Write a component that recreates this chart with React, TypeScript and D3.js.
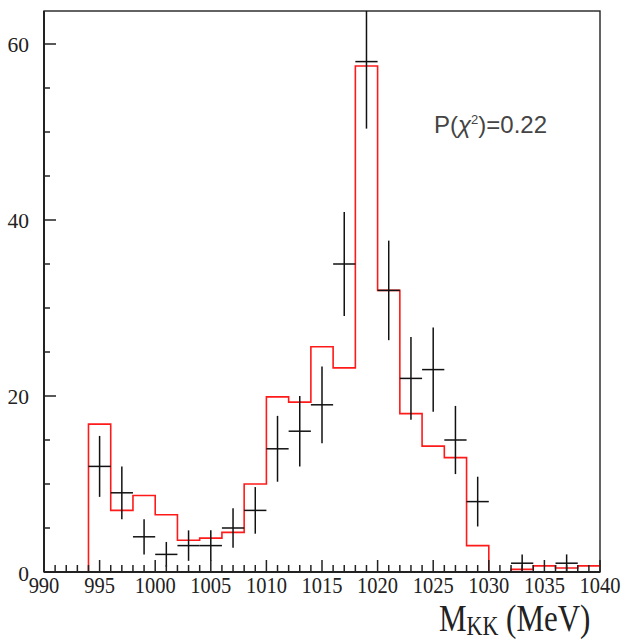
import React, { useEffect, useRef } from "react";
import * as d3 from "d3";

// bin edges: 2 MeV bins from 994 to 1040
const binLow = [994, 996, 998, 1000, 1002, 1004, 1006, 1008, 1010, 1012, 1014, 1016,
  1018, 1020, 1022, 1024, 1026, 1028, 1030, 1032, 1034, 1036, 1038];
// observed counts per bin (error = sqrt(n))
const counts = [12, 9, 4, 2, 3, 3, 5, 7, 14, 16, 19, 35, 58, 32, 22, 23, 15, 8, 0, 1, 0, 1, 0];
// fitted histogram (red)
const fitValues = [16.8, 7.0, 8.7, 6.5, 3.6, 3.85, 4.5, 10.0, 19.9, 19.3, 25.6, 23.2,
  57.5, 32.0, 18.0, 14.3, 13.0, 3.0, 0, 0.3, 0.7, 0.45, 0.7];
const xTickLabels = [990, 995, 1000, 1005, 1010, 1015, 1020, 1025, 1030, 1035, 1040];
const yTickLabels = [0, 20, 40, 60];

const W = 625;
const H = 642;
const BIN = 2;

export default function App() {
  const ref = useRef<SVGSVGElement>(null);

  useEffect(() => {
    const svg = d3.select(ref.current);
    svg.selectAll("*").remove();

    const x = d3.scaleLinear().domain([990, 1040]).range([44, 600]);
    const y = d3.scaleLinear().domain([0, 63.75]).range([572, 11]);

    svg.append("defs").append("clipPath").attr("id", "plotClip")
      .append("rect")
      .attr("x", 44).attr("y", 11).attr("width", 556).attr("height", 561);

    // frame
    svg.append("rect")
      .attr("x", 44).attr("y", 11).attr("width", 556).attr("height", 561)
      .attr("fill", "none").attr("stroke", "#222").attr("stroke-width", 1.4);

    const plot = svg.append("g").attr("clip-path", "url(#plotClip)");

    // red fit histogram
    const pts: [number, number][] = [[binLow[0], 0]];
    binLow.forEach((lo, i) => {
      pts.push([lo, fitValues[i]]);
      pts.push([lo + BIN, fitValues[i]]);
    });
    const line = d3.line<[number, number]>().x((d) => x(d[0])).y((d) => y(d[1]));
    plot.append("path")
      .attr("d", line(pts))
      .attr("fill", "none")
      .attr("stroke", "#ff1a1a")
      .attr("stroke-width", 1.6);

    // data points with errors
    const data = binLow
      .map((lo, i) => ({ c: lo + BIN / 2, n: counts[i] }))
      .filter((d) => d.n > 0);
    const g = plot.append("g").attr("stroke", "#111").attr("stroke-width", 1.5);
    g.selectAll("line.h").data(data).join("line")
      .attr("class", "h")
      .attr("x1", (d) => x(d.c - BIN / 2)).attr("x2", (d) => x(d.c + BIN / 2))
      .attr("y1", (d) => y(d.n)).attr("y2", (d) => y(d.n));
    g.selectAll("line.v").data(data).join("line")
      .attr("class", "v")
      .attr("x1", (d) => x(d.c)).attr("x2", (d) => x(d.c))
      .attr("y1", (d) => y(d.n + Math.sqrt(d.n))).attr("y2", (d) => y(d.n - Math.sqrt(d.n)));

    // x axis
    const xAxis = svg.append("g").attr("stroke", "#222");
    xAxis.append("line").attr("x1", 44).attr("x2", 600).attr("y1", 572).attr("y2", 572)
      .attr("stroke-width", 2);
    const xMinor = d3.range(990, 1041, 1);
    xAxis.selectAll("line.t").data(xMinor).join("line")
      .attr("class", "t")
      .attr("x1", (d) => x(d)).attr("x2", (d) => x(d))
      .attr("y1", 572).attr("y2", (d) => 572 - (d % 5 === 0 ? 12 : 7))
      .attr("stroke-width", 1.5);
    svg.append("g").selectAll("text").data(xTickLabels).join("text")
      .attr("transform", (d) => `translate(${x(d)},593) scale(1,1.15)`)
      .attr("text-anchor", "middle")
      .attr("font-family", "Liberation Serif")
      .attr("font-size", 20.5)
      .attr("fill", "#222")
      .text((d) => d);

    // y axis
    const yAxis = svg.append("g").attr("stroke", "#222");
    yAxis.append("line").attr("x1", 44).attr("x2", 44).attr("y1", 11).attr("y2", 572)
      .attr("stroke-width", 2);
    const yMinor = d3.range(0, 63, 5);
    yAxis.selectAll("line.t").data(yMinor).join("line")
      .attr("class", "t")
      .attr("x1", 44).attr("x2", (d) => 44 + (d % 20 === 0 ? 12 : 6))
      .attr("y1", (d) => y(d)).attr("y2", (d) => y(d))
      .attr("stroke-width", 1.5);
    svg.append("g").selectAll("text").data(yTickLabels).join("text")
      .attr("x", 29)
      .attr("y", (d) => y(d) + 7.5 + (d === 0 ? 1 : 0))
      .attr("text-anchor", "end")
      .attr("font-family", "Liberation Serif")
      .attr("font-size", 21.5)
      .attr("fill", "#222")
      .text((d) => d);

    // axis title
    const title = svg.append("text")
      .attr("transform", "translate(439,631) scale(1,1.25)")
      .attr("font-family", "Liberation Serif")
      .attr("font-size", 31)
      .attr("fill", "#222");
    title.append("tspan").text("M");
    title.append("tspan").attr("font-size", 22).attr("dy", 3).text("KK");
    title.append("tspan").attr("dy", -3).text(" (MeV)");

    // chi2 probability
    const p = svg.append("text")
      .attr("x", 434).attr("y", 133)
      .attr("font-family", "Liberation Sans")
      .attr("font-size", 24)
      .attr("fill", "#444");
    p.append("tspan").text("P(");
    p.append("tspan").attr("font-style", "italic").text("χ");
    p.append("tspan").attr("font-size", 13).attr("dy", -9).text("2");
    p.append("tspan").attr("dy", 9).text(")=0.22");
  }, []);

  return (
    <svg
      ref={ref}
      width={W}
      height={H}
      style={{ position: "absolute", left: 0, top: 0, background: "#fff" }}
    />
  );
}
